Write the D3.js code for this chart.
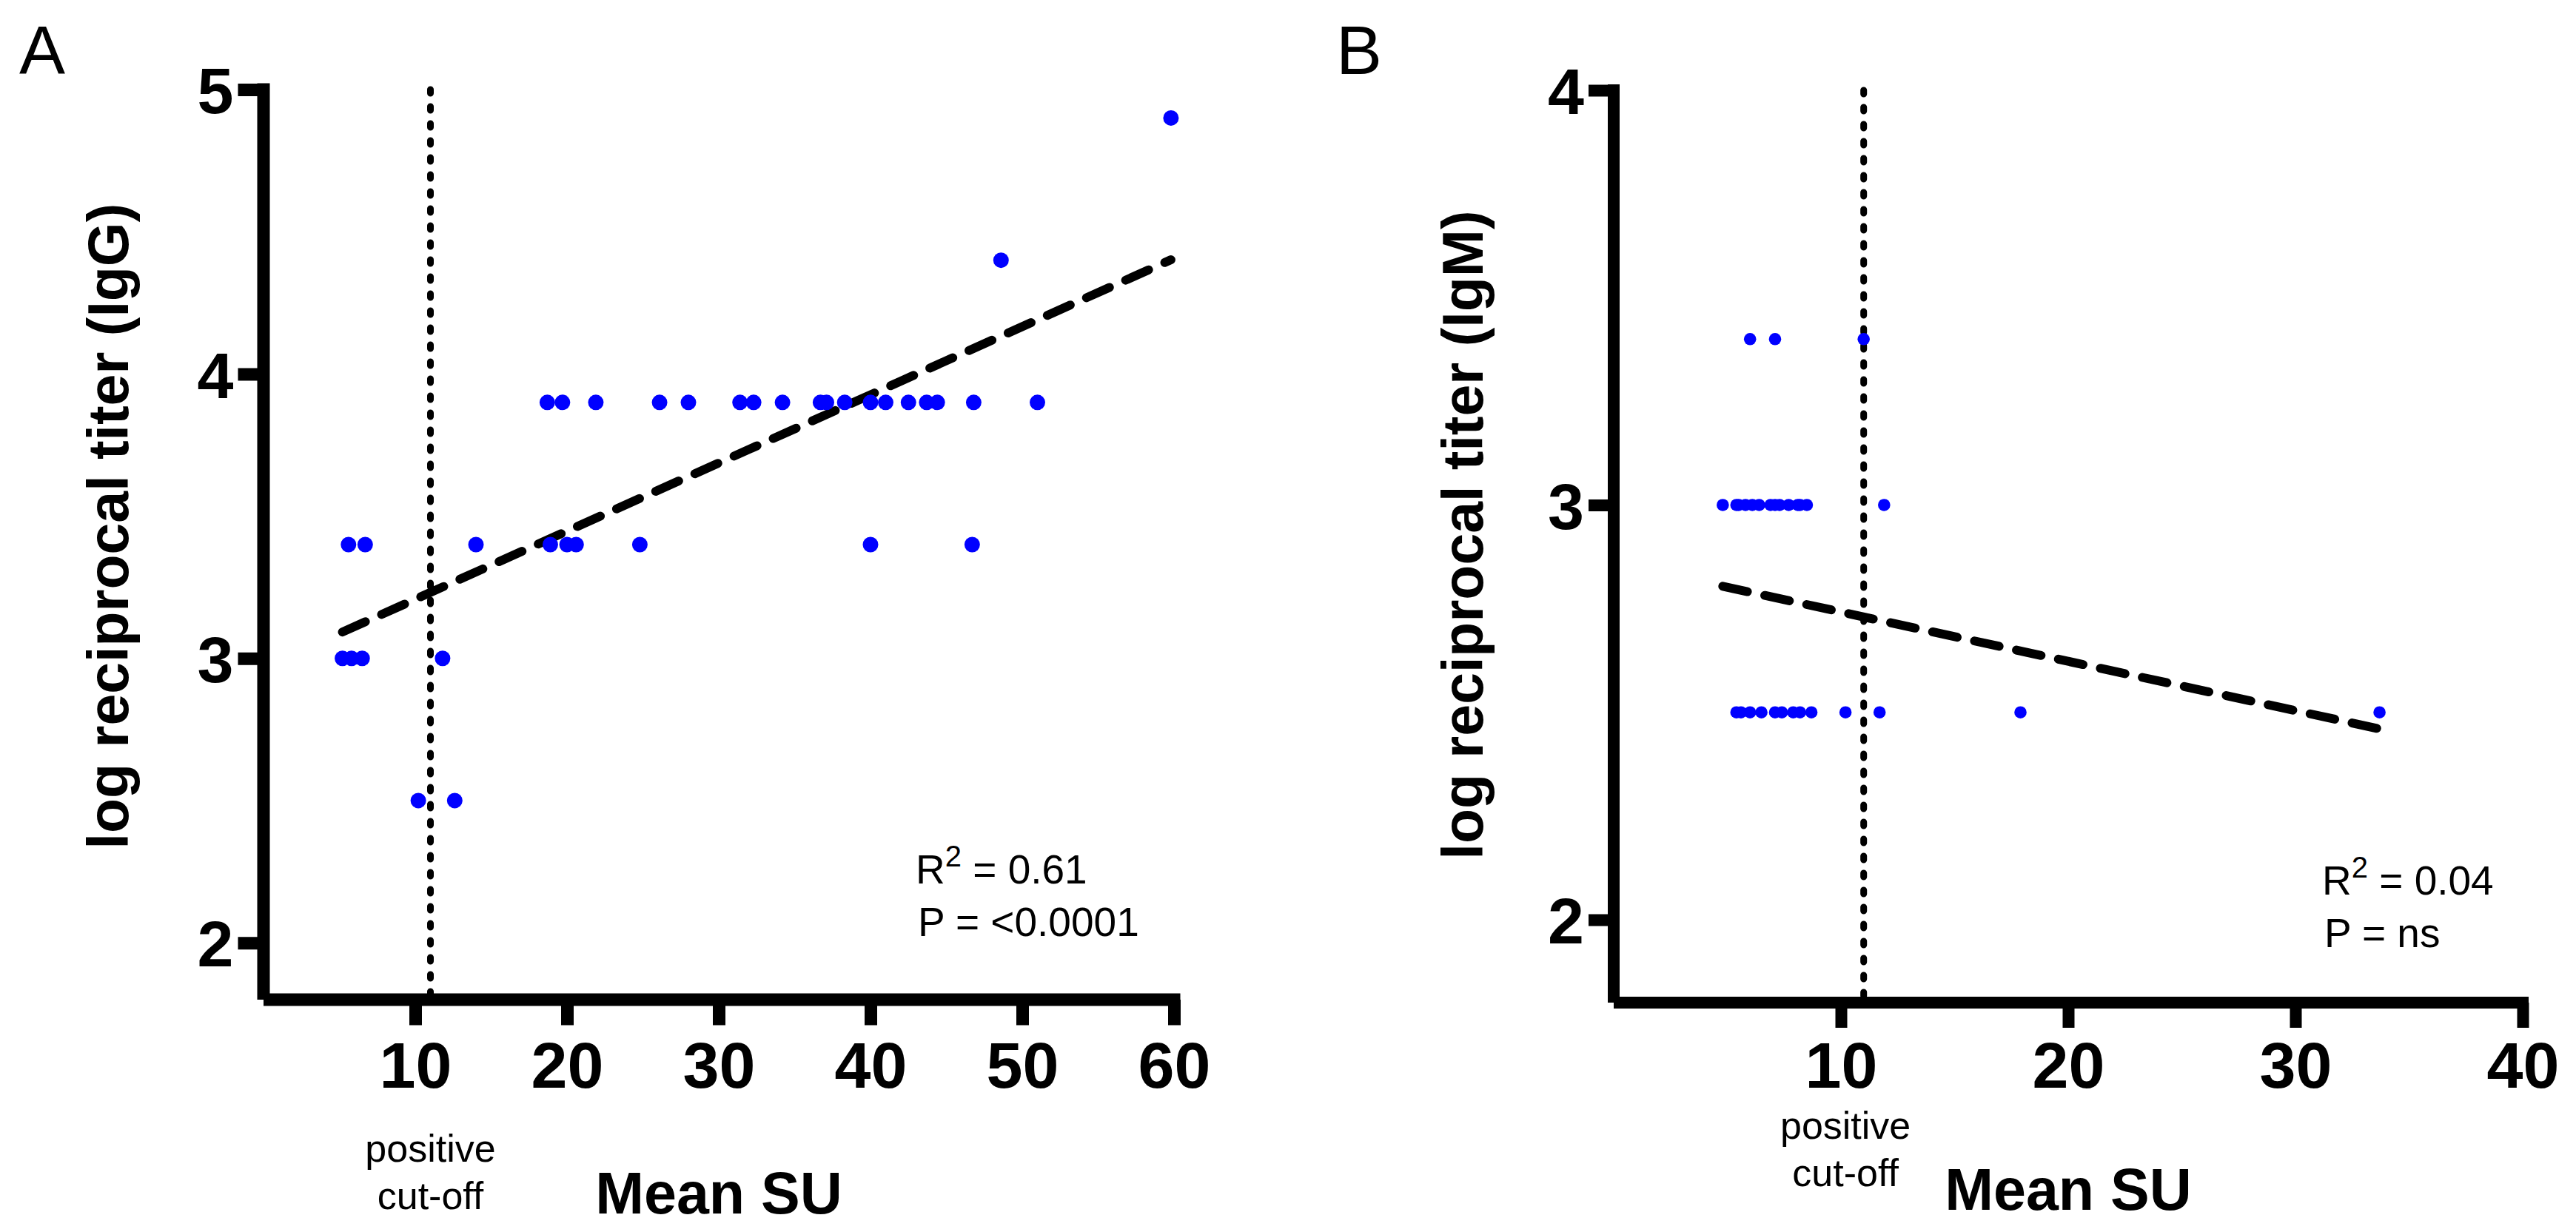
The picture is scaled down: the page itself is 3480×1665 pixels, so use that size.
<!DOCTYPE html>
<html>
<head>
<meta charset="utf-8">
<script src="https://cdn.jsdelivr.net/npm/d3@7"></script>
<style>
  body { margin: 0; background: #fff; }
  svg { display: block; font-family: "Liberation Sans", Arial, sans-serif; }
</style>
</head>
<body>
<div id="fig"></div>
<script>
// Panel A: IgG titer vs Mean SU
const suA = [18.7, 19.7, 21.9, 26.1, 28.0, 31.4, 32.3, 34.2, 36.7, 37.1, 38.3, 40.0, 41.0, 42.5, 43.7, 44.4, 46.8, 51.0,
             5.6, 6.7, 14.0, 18.9, 20.0, 20.6, 24.8, 40.0, 46.7,
             5.2, 5.8, 6.5, 11.8,
             10.2, 12.6,
             48.6, 59.8];
const igG = [3.9, 3.9, 3.9, 3.9, 3.9, 3.9, 3.9, 3.9, 3.9, 3.9, 3.9, 3.9, 3.9, 3.9, 3.9, 3.9, 3.9, 3.9,
             3.4, 3.4, 3.4, 3.4, 3.4, 3.4, 3.4, 3.4, 3.4,
             3.0, 3.0, 3.0, 3.0,
             2.5, 2.5,
             4.4, 4.9];
const fitA = [0.02397, 2.968]; // slope, intercept
const xTicksA = [10, 20, 30, 40, 50, 60];
const yTicksA = [2, 3, 4, 5];
const statsA = ["0.61", "<0.0001"];

// Panel B: IgM titer vs Mean SU
const suB = [6.0, 7.1, 11.0,
             4.8, 5.4, 5.5, 5.8, 6.1, 6.4, 6.9, 7.1, 7.3, 7.7, 8.1, 8.2, 8.5, 11.9,
             5.4, 5.6, 6.0, 6.5, 7.1, 7.4, 7.9, 8.2, 8.7, 10.2, 11.7, 17.9, 33.7];
const igM = [3.4, 3.4, 3.4,
             3.0, 3.0, 3.0, 3.0, 3.0, 3.0, 3.0, 3.0, 3.0, 3.0, 3.0, 3.0, 3.0, 3.0,
             2.5, 2.5, 2.5, 2.5, 2.5, 2.5, 2.5, 2.5, 2.5, 2.5, 2.5, 2.5, 2.5];
const fitB = [-0.0119, 2.861];
const xTicksB = [10, 20, 30, 40];
const yTicksB = [2, 3, 4];
const statsB = ["0.04", "ns"];

const cutOff = 11;

const WIDTH = 3480;
const HEIGHT = 1665;

const SVG = d3.select("#fig").append("svg")
    .attr("width", WIDTH)
    .attr("height", HEIGHT);

SVG.append("rect").attr("width", WIDTH).attr("height", HEIGHT).attr("fill", "#fff");

function panel(p) {
    const g = SVG.append("g");
    const x = d3.scaleLinear().domain(p.xDomain).range(p.xRange);
    const y = d3.scaleLinear().domain(p.yDomain).range(p.yRange);
    const sw = p.axisWidth;
    const x0 = x.range()[0], y0 = y.range()[0];

    // panel letter
    g.append("text")
        .attr("x", p.letterX).attr("y", 100)
        .attr("font-size", 93)
        .text(p.letter);

    // cut-off line
    g.append("line")
        .attr("x1", x(cutOff)).attr("x2", x(cutOff))
        .attr("y1", y(p.yDomain[1])).attr("y2", y0)
        .attr("stroke", "#000")
        .attr("stroke-width", 9)
        .attr("stroke-linecap", "round")
        .attr("stroke-dasharray", "5 18");

    // regression line over data range
    const ext = d3.extent(p.xs);
    const fit = v => p.fit[0] * v + p.fit[1];
    g.append("line")
        .attr("x1", x(ext[0])).attr("y1", y(fit(ext[0])))
        .attr("x2", x(ext[1])).attr("y2", y(fit(ext[1])))
        .attr("stroke", "#000")
        .attr("stroke-width", 12)
        .attr("stroke-linecap", "round")
        .attr("stroke-dasharray", "34 24");

    // points
    g.append("g").selectAll("circle")
        .data(p.xs.map((v, i) => [v, p.ys[i]]))
        .join("circle")
        .attr("cx", d => x(d[0]))
        .attr("cy", d => y(d[1]))
        .attr("r", p.r)
        .attr("fill", "#0000ff");

    // axes
    const yAxis = g.append("g")
        .attr("transform", `translate(${x0},0)`)
        .call(d3.axisLeft(y).tickValues(p.yTicks).tickSize(26 + sw / 2).tickPadding(6).tickFormat(d3.format("d")));
    yAxis.select(".domain").remove();
    yAxis.selectAll(".tick line").attr("stroke-width", sw);
    yAxis.selectAll(".tick text")
        .attr("font-size", 88).attr("font-weight", "bold")
        .attr("font-family", "Liberation Sans, Arial, sans-serif")
        .attr("dy", "0.36em");

    const xAxis = g.append("g")
        .attr("transform", `translate(0,${y0})`)
        .call(d3.axisBottom(x).tickValues(p.xTicks).tickSize(26 + sw / 2).tickFormat(d3.format("d")));
    xAxis.select(".domain").remove();
    xAxis.selectAll(".tick line").attr("stroke-width", sw);
    xAxis.selectAll(".tick text")
        .attr("font-size", 88).attr("font-weight", "bold")
        .attr("font-family", "Liberation Sans, Arial, sans-serif")
        .attr("y", p.xLabelY).attr("dy", 0);

    g.append("line")
        .attr("x1", x0).attr("x2", x0)
        .attr("y1", y(p.yDomain[1]) - sw / 2).attr("y2", y0)
        .attr("stroke", "#000").attr("stroke-width", sw);
    g.append("line")
        .attr("x1", x0).attr("x2", x(p.xDomain[1]) + sw / 2)
        .attr("y1", y0).attr("y2", y0)
        .attr("stroke", "#000").attr("stroke-width", sw);

    // axis titles
    g.append("text")
        .attr("transform", `translate(${p.yTitleX},${p.yTitleY}) rotate(-90)`)
        .attr("text-anchor", "middle")
        .attr("font-size", 77).attr("font-weight", "bold")
        .text(p.yTitle);

    g.append("text")
        .attr("x", x((p.xDomain[0] + p.xDomain[1]) / 2)).attr("y", p.xTitleY)
        .attr("text-anchor", "middle")
        .attr("font-size", 79).attr("font-weight", "bold")
        .text("Mean SU");

    // cut-off note
    const note = g.append("text")
        .attr("text-anchor", "middle")
        .attr("font-size", 52);
    note.append("tspan").attr("x", x(p.noteAt)).attr("y", p.noteY).text("positive");
    note.append("tspan").attr("x", x(p.noteAt)).attr("y", p.noteY + 64).text("cut-off");

    // stats
    const r2 = g.append("text").attr("x", p.statX).attr("y", p.statY).attr("font-size", 55);
    r2.append("tspan").text("R");
    r2.append("tspan").attr("font-size", 40).attr("dy", -23).text("2");
    r2.append("tspan").attr("dy", 23).text(" = " + p.stats[0]);
    g.append("text").attr("x", p.statX + 3).attr("y", p.statY + 71).attr("font-size", 55)
        .text("P = " + p.stats[1]);
}

panel({
    letter: "A", letterX: 26,
    xs: suA, ys: igG, fit: fitA, stats: statsA,
    xDomain: [0, 60], xRange: [356, 1586],
    yDomain: [1.8, 5], yRange: [1351, 121],
    xTicks: xTicksA, yTicks: yTicksA,
    axisWidth: 17, r: 10.5,
    xLabelY: 119,
    yTitle: "log reciprocal titer (IgG)", yTitleX: 173, yTitleY: 711,
    xTitleY: 1640,
    noteAt: 11, noteY: 1570,
    statX: 1237, statY: 1194
});

panel({
    letter: "B", letterX: 1805,
    xs: suB, ys: igM, fit: fitB, stats: statsB,
    xDomain: [0, 40], xRange: [2180, 3408],
    yDomain: [1.8, 4], yRange: [1355, 122],
    xTicks: xTicksB, yTicks: yTicksB,
    axisWidth: 16, r: 8.3,
    xLabelY: 115,
    yTitle: "log reciprocal titer (IgM)", yTitleX: 2003, yTitleY: 723,
    xTitleY: 1635,
    noteAt: 10.2, noteY: 1539,
    statX: 3137, statY: 1209
});
</script>
</body>
</html>
